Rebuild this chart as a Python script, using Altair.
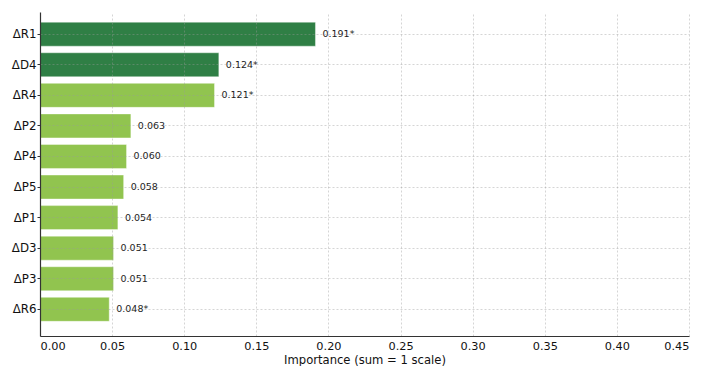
import altair as alt
import pandas as pd

features = ["ΔR1", "ΔD4", "ΔR4", "ΔP2", "ΔP4", "ΔP5", "ΔP1", "ΔD3", "ΔP3", "ΔR6"]
importance = [0.191, 0.124, 0.121, 0.063, 0.060, 0.058, 0.054, 0.051, 0.051, 0.048]
labels = ["0.191*", "0.124*", "0.121*", "0.063", "0.060", "0.058", "0.054", "0.051", "0.051", "0.048*"]
group = ["top", "top", "rest", "rest", "rest", "rest", "rest", "rest", "rest", "rest"]
x_ticks = [0.0, 0.05, 0.10, 0.15, 0.20, 0.25, 0.30, 0.35, 0.40, 0.45]

df = pd.DataFrame({"feature": features, "importance": importance,
                   "label": labels, "group": group})

FONT = "DejaVu Sans"

y_enc = alt.Y("feature:N", sort=features,
              scale=alt.Scale(paddingInner=0.215, paddingOuter=0.407, align=0.41),
              axis=alt.Axis(title=None, labelFontSize=11.8, labelFont=FONT,
                            labelColor="#111", tickSize=3, tickColor="#333",
                            labelPadding=1, domainColor="#333", domainWidth=1.2,
                            grid=True, gridColor="#999", gridDash=[2, 2],
                            gridWidth=0.7, gridOpacity=0.6, zindex=1))
x_enc = alt.X("importance:Q",
              scale=alt.Scale(domain=[0, 0.45], nice=False, zero=True),
              axis=alt.Axis(title="Importance (sum = 1 scale)", values=x_ticks,
                            format=".2f", labelFontSize=11.3, labelFont=FONT,
                            labelColor="#111", titleFont=FONT, titleFontSize=11.6,
                            titleFontWeight="normal", titleColor="#111",
                            titlePadding=3, labelPadding=4, tickSize=0,
                            domainColor="#333", domainWidth=1.2,
                            grid=True, gridColor="#999", gridDash=[2, 2],
                            gridWidth=0.7, gridOpacity=0.6, zindex=1))

bars = alt.Chart(df).mark_bar(stroke="#ffffff", strokeWidth=0.8, strokeOpacity=0.5).encode(
    y=y_enc,
    x=x_enc,
    color=alt.Color("group:N",
                    scale=alt.Scale(domain=["top", "rest"], range=["#2f7f45", "#91c44f"]),
                    legend=None),
)

text = alt.Chart(df).mark_text(align="left", baseline="middle", dx=7,
                               fontSize=9.5, font=FONT, color="#222").encode(
    y=alt.Y("feature:N", sort=features),
    x=alt.X("importance:Q"),
    text="label:N",
)

chart = (bars + text).properties(
    width=649, height=324,
    autosize=alt.AutoSizeParams(type="none"),
    padding={"left": 32, "top": 4, "right": 10, "bottom": 30},
    background="white",
).configure_view(stroke=None)

chart.save("out.html", embed_options={"renderer": "svg", "actions": False})
